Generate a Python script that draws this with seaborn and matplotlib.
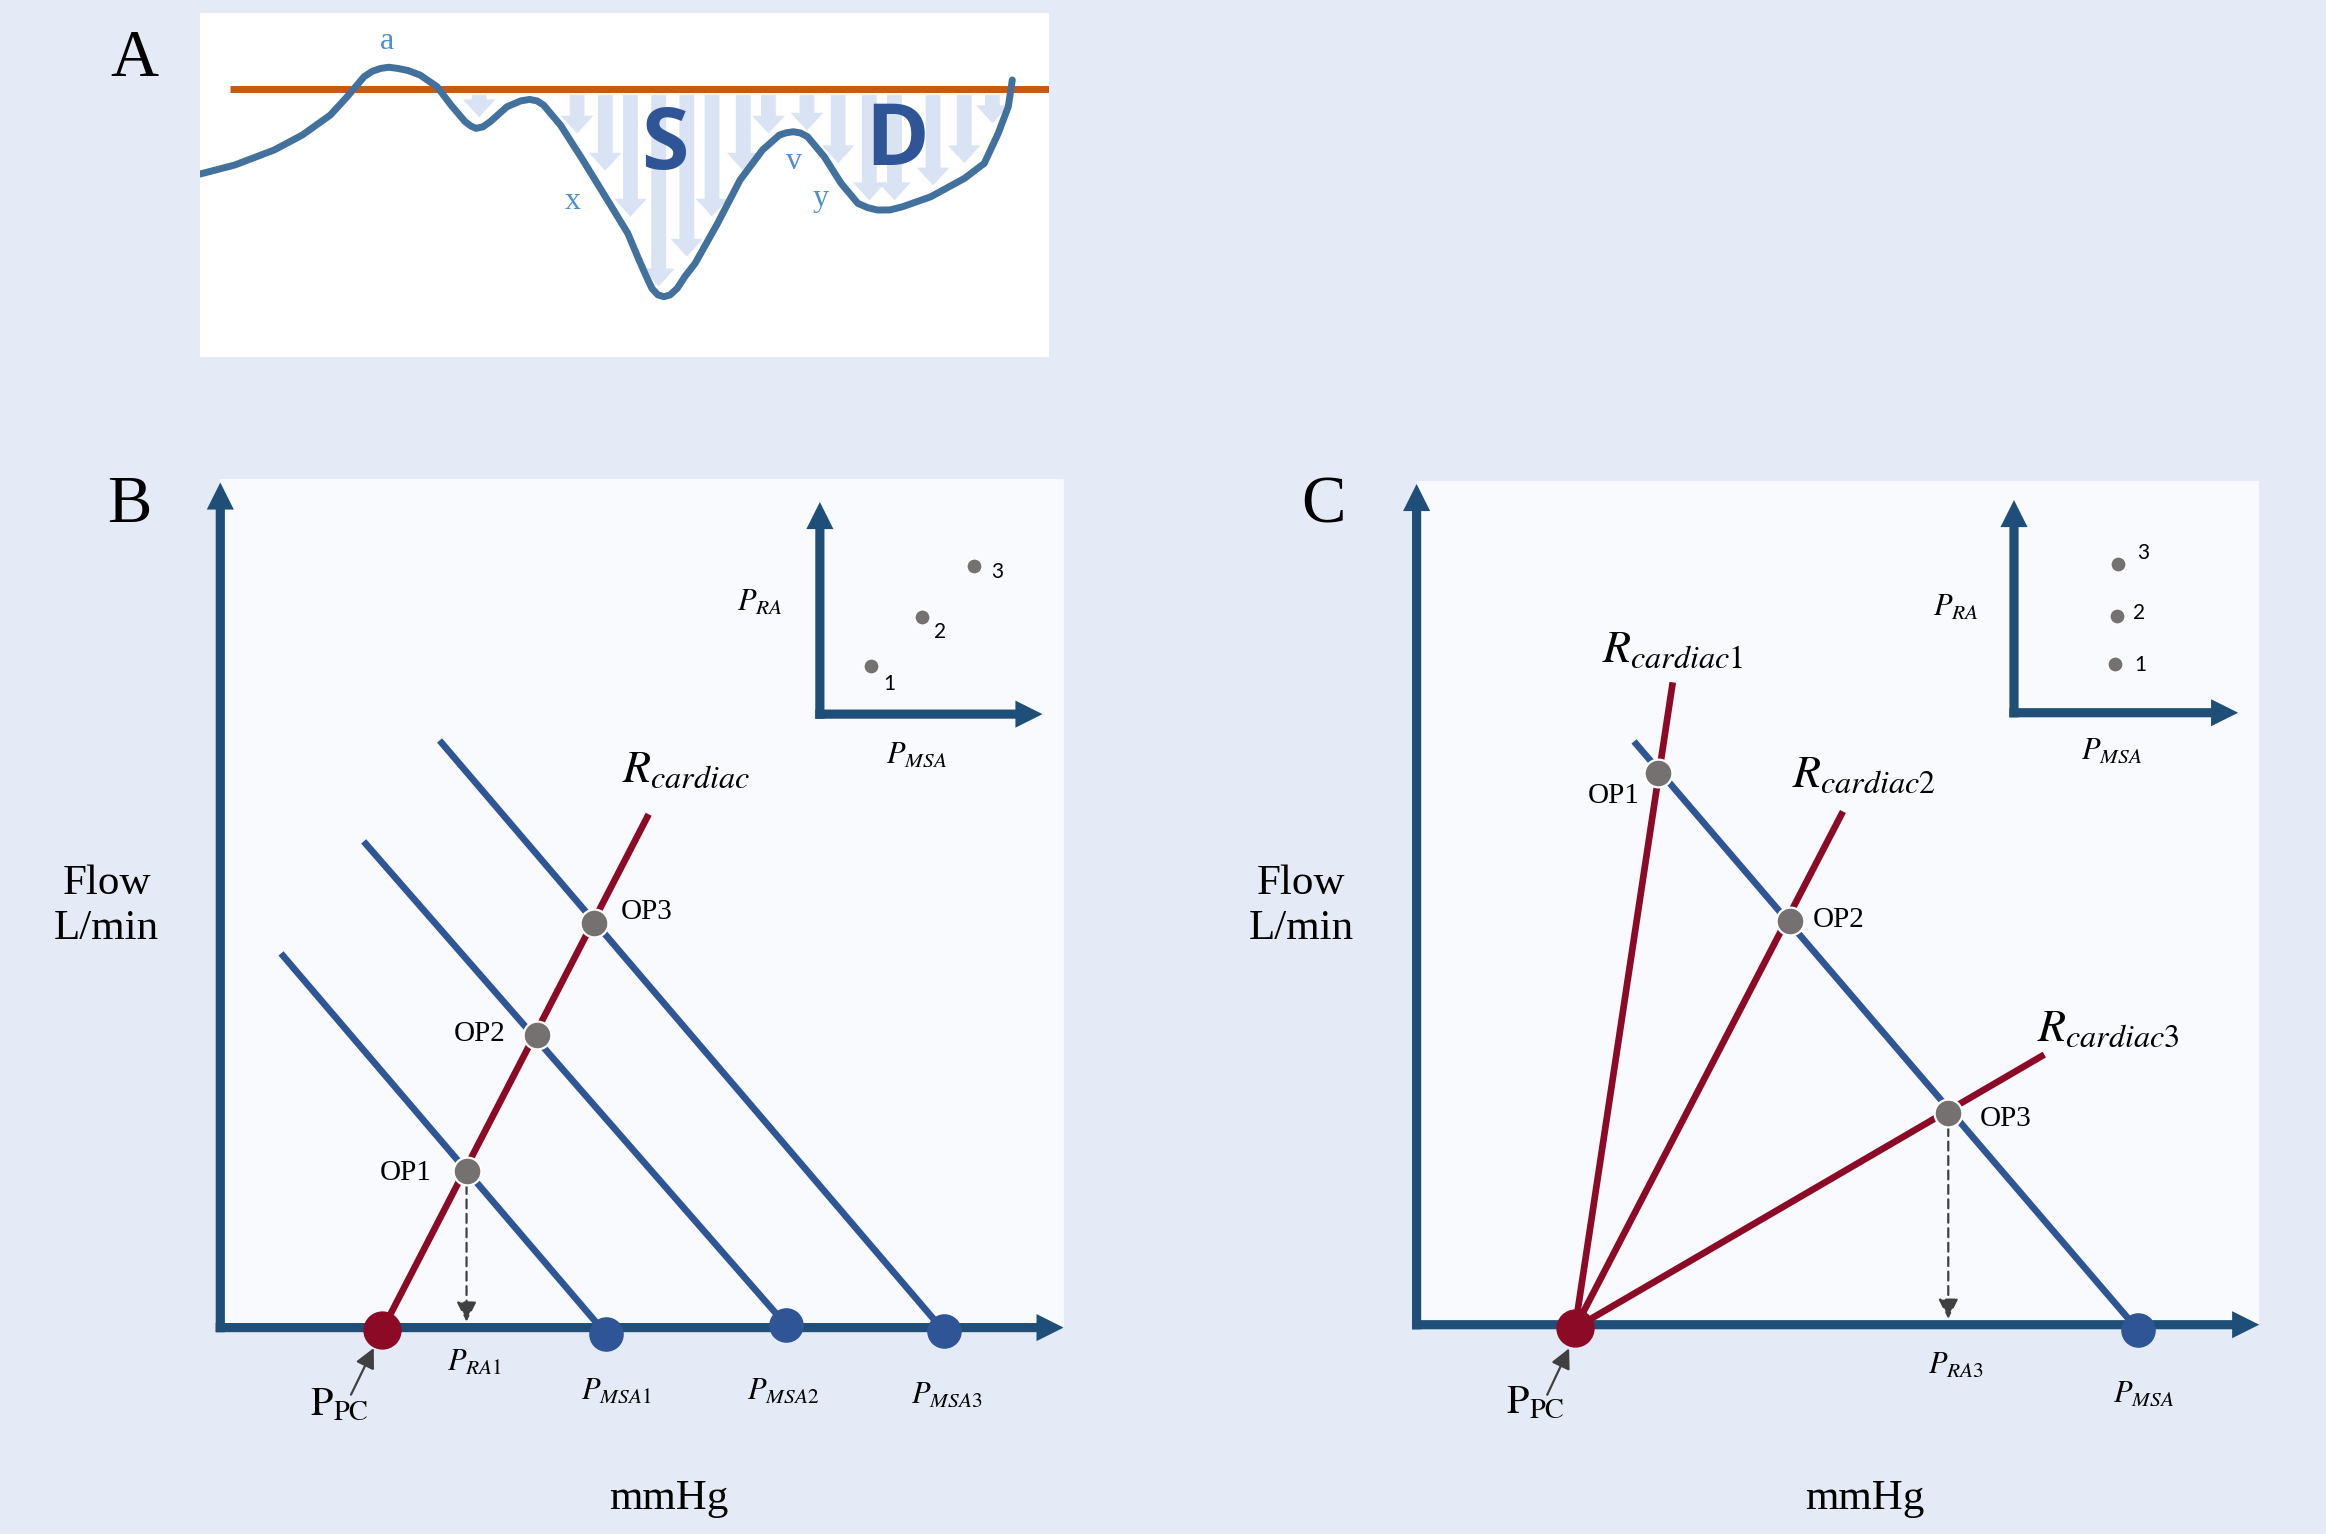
import matplotlib
matplotlib.use("Agg")
import matplotlib.pyplot as plt
import numpy as np
import pandas as pd
import seaborn as sns

################################
# data:
################################

# panel A - venous pressure trace (picture units)
wave_x = [134.9, 158.3, 184.8, 203.8, 222.7, 234.0, 245.4, 251.0, 256.7, 262.0, 268.1,
          275.0, 283.2, 294.6, 304.0, 313.5, 317.5, 321.0, 325.5, 330.5, 341.8, 351.0,
          357.0, 362.0, 366.4, 377.8, 392.9, 408.1, 423.2, 430.8, 435.5, 439.5, 443.5,
          447.5, 451.6, 456.5, 462.0, 468.6, 483.7, 498.9, 514.0, 525.4, 530.0, 534.8,
          539.5, 544.3, 555.6, 567.0, 578.3, 585.0, 591.6, 600.0, 608.6, 627.5, 650.2,
          663.5, 672.9, 679.7, 682.4]
wave_y = [117.3, 111.2, 101.1, 91.0, 77.5, 65.2, 51.7, 48.0, 46.1, 45.3, 46.1,
          47.5, 50.6, 58.4, 70.8, 82.0, 85.0, 86.5, 85.5, 82.0, 71.9, 68.0,
          67.0, 68.0, 70.8, 84.3, 107.9, 132.6, 157.3, 175.3, 186.0, 194.5, 198.8,
          200.0, 198.9, 194.4, 186.0, 177.5, 150.6, 121.3, 101.1, 91.0, 89.5, 88.8,
          89.6, 92.1, 105.6, 123.6, 137.1, 140.0, 141.6, 141.5, 139.3, 132.6, 120.2,
          110.1, 89.9, 71.9, 53.9]
baseline_y = 60
baseline_x = [155, 710]
flow_x = [323, 389, 408, 425, 444, 463, 480, 501, 518, 544, 565, 586, 603, 629, 650, 669]
flow_end = [79, 90, 115, 146, 193, 173, 146, 115, 90, 88, 110, 135, 135, 125, 110, 83]
wave_marks = ["a", "x", "v", "y"]

# panel B - three venous return curves, one cardiac line
b_pmsa = [45.7, 67.1, 85.8]
b_pmsa_y = [-0.7, 0.3, -0.4]
b_vr_top_x = [7.2, 17.0, 26.0]
b_vr_top_y = [44.1, 57.3, 69.2]
b_ppc = 19.2
b_rc_top = [50.8, 60.5]
b_op_x = [29.2, 37.6, 44.3]
b_op_y = [18.5, 34.5, 47.7]
b_inset_x = [77.2, 83.2, 89.4]
b_inset_y = [78.0, 83.7, 89.8]

# panel C - one venous return curve, three cardiac lines
c_pmsa = 85.6
c_vr_top = [25.8, 69.1]
c_ppc = 18.8
c_rc_top_x = [30.4, 50.6, 74.5]
c_rc_top_y = [76.1, 60.8, 32.0]
c_op_x = [28.7, 44.3, 63.1]
c_op_y = [65.4, 47.8, 25.1]
c_inset_x = [82.9, 83.1, 83.3]
c_inset_y = [78.3, 84.0, 90.1]

op_names = ["OP1", "OP2", "OP3"]

################################
# style:
################################

BG = "#e5ebf6"
PANEL = "#f8fafe"
AXIS = "#1f4e79"
VR = "#2f5597"
RED = "#8c0a26"
OPC = "#767171"
DARK = "#404040"
WAVE = "#41719c"

sns.set_theme(style="white")
plt.rcParams["font.family"] = ["Liberation Serif", "DejaVu Serif"]
plt.rcParams["mathtext.fontset"] = "stix"
plt.rcParams["text.color"] = "black"

fig = plt.figure(figsize=(23.26, 15.34), dpi=100, facecolor=BG)


def clean(ax, face):
    ax.set_facecolor(face)
    ax.set_xticks([])
    ax.set_yticks([])
    ax.set(xlabel="", ylabel="")
    sns.despine(ax=ax, left=True, bottom=True)


def fat_arrow(ax, x0, y0, x1, y1):
    ax.annotate("", xy=(x1, y1), xytext=(x0, y0), annotation_clip=False, zorder=1,
                arrowprops=dict(width=6.6, headwidth=19.5, headlength=19.5, shrink=0,
                                color=AXIS, lw=0))


def thin_arrow(ax, x0, y0, x1, y1, dashed=False):
    ax.annotate("", xy=(x1, y1), xytext=(x0, y0), annotation_clip=False, zorder=2,
                arrowprops=dict(arrowstyle="-|>,head_length=1.0,head_width=0.5",
                                mutation_scale=12, lw=1.6, color=DARK,
                                ls=(0, (4, 2.5)) if dashed else "-",
                                shrinkA=0, shrinkB=0))


def frame(ax, ix, iy0, iy1, ix1):
    clean(ax, PANEL)
    ax.set_xlim(0, 100)
    ax.set_ylim(0, 100)
    fat_arrow(ax, 0, -0.55, 0, 99.6)
    fat_arrow(ax, -0.55, 0, 100, 0)
    # small inset axes
    fat_arrow(ax, ix, iy0 - 0.55, ix, iy1)
    fat_arrow(ax, ix - 0.55, iy0, ix1, iy0)


def segments(x0, y0, x1, y1):
    rows = []
    for i in range(len(x0)):
        rows.append({"x": x0[i], "y": y0[i], "line": i})
        rows.append({"x": x1[i], "y": y1[i], "line": i})
    return pd.DataFrame(rows)


def draw_lines(ax, df, color):
    sns.lineplot(data=df, x="x", y="y", units="line", estimator=None, sort=False,
                 color=color, linewidth=4.8, legend=False, ax=ax, clip_on=False,
                 solid_capstyle="butt", zorder=3)


def dots(ax, x, y, s, color, edge=None, lw=0, z=5):
    sns.scatterplot(x=x, y=y, s=s, color=color, edgecolor=edge if edge else color,
                    linewidth=lw, ax=ax, legend=False, clip_on=False, zorder=z)


################################
# panel A
################################

axA = fig.add_axes([0.08611, 0.76695, 0.36479, 0.22432])
clean(axA, "white")
axA.set_xlim(135, 707)
for x, e in zip(flow_x, flow_end):
    axA.arrow(x, baseline_y + 4, 0, e - baseline_y - 4, width=10, head_width=22,
              head_length=12, length_includes_head=True, color="#dae3f3", lw=0, zorder=1)
axA.plot(baseline_x, [baseline_y, baseline_y], color="#c55a11", lw=5, zorder=2,
         solid_capstyle="butt")
sns.lineplot(x=wave_x, y=wave_y, sort=False, estimator=None, color=WAVE, linewidth=5,
             ax=axA, zorder=3, solid_joinstyle="round", solid_capstyle="round")
axA.set(xlabel="", ylabel="")
axA.set_ylim(241, 9)
for m, (x, y) in zip(wave_marks, [(261, 28), (386, 136), (535, 109), (553, 134)]):
    axA.text(x, y, m, color="#4f8fd0", fontsize=23, ha="center", va="center")
axA.text(448, 99, "S", color=VR, fontsize=62, fontweight="bold", family="Open Sans",
         ha="center", va="center", zorder=4)
axA.text(605, 96, "D", color=VR, fontsize=62, fontweight="bold", family="Open Sans",
         ha="center", va="center", zorder=4)

################################
# panel B
################################

axB = fig.add_axes([0.09471, 0.13455, 0.36255, 0.55313])
frame(axB, 71.1, 72.3, 97.3, 97.5)

draw_lines(axB, segments(b_vr_top_x, b_vr_top_y, b_pmsa, b_pmsa_y), VR)
draw_lines(axB, segments([b_ppc], [-0.3], [b_rc_top[0]], [b_rc_top[1]]), RED)
thin_arrow(axB, b_op_x[0], b_op_y[0] - 1.7, b_op_x[0], 0.7, dashed=True)
dots(axB, b_op_x, b_op_y, 400, OPC, "white", 1.6)
dots(axB, b_pmsa, b_pmsa_y, 620, VR)
dots(axB, [b_ppc], [-0.3], 760, RED)
dots(axB, b_inset_x, b_inset_y, 120, OPC, "white", 1.0)

for name, (x, y) in zip(op_names, [(22.0, 18.2), (30.8, 34.6), (50.5, 49.0)]):
    axB.text(x, y, name, fontsize=21, ha="center", va="center")
axB.text(55.2, 65.6, r"$R_{cardiac}$", fontsize=33, ha="center", va="center")
for i, (x, y) in enumerate([(46.9, -7.5), (66.8, -7.5), (86.1, -8.0)]):
    axB.text(x, y, r"$P_{MSA%d}$" % (i + 1), fontsize=22, ha="center", va="center")
axB.text(30.1, -4.2, r"$P_{RA1}$", fontsize=22, ha="center", va="center")
axB.text(14.1, -9.1, r"$\mathrm{P}_{\mathrm{PC}}$", fontsize=29, ha="center", va="center")
thin_arrow(axB, 15.5, -7.9, 18.2, -2.4)
axB.text(64.0, 85.4, r"$P_{RA}$", fontsize=22, ha="center", va="center")
axB.text(82.6, 67.5, r"$P_{MSA}$", fontsize=22, ha="center", va="center")
for i, (x, y) in enumerate([(79.3, 75.9), (85.3, 82.0), (92.1, 89.1)]):
    axB.text(x, y, str(i + 1), fontsize=15, family="Lato", ha="center", va="center")

################################
# panel C
################################

axC = fig.add_axes([0.60903, 0.13644, 0.36225, 0.55026])
frame(axC, 70.9, 72.5, 97.7, 97.5)

draw_lines(axC, segments([c_vr_top[0]], [c_vr_top[1]], [c_pmsa], [-0.6]), VR)
draw_lines(axC, segments([c_ppc] * 3, [-0.4] * 3, c_rc_top_x, c_rc_top_y), RED)
thin_arrow(axC, c_op_x[2], c_op_y[2] - 1.7, c_op_x[2], 0.7, dashed=True)
dots(axC, c_op_x, c_op_y, 400, OPC, "white", 1.6)
dots(axC, [c_pmsa], [-0.6], 620, VR)
dots(axC, [c_ppc], [-0.4], 760, RED)
dots(axC, c_inset_x, c_inset_y, 120, OPC, "white", 1.0)

for name, (x, y) in zip(op_names, [(23.4, 62.6), (50.1, 48.0), (69.9, 24.4)]):
    axC.text(x, y, name, fontsize=21, ha="center", va="center")
for i, (x, y) in enumerate([(30.4, 79.8), (53.1, 65.0), (82.1, 35.0)]):
    axC.text(x, y, r"$R_{cardiac%d}$" % (i + 1), fontsize=33, ha="center", va="center")
axC.text(64.0, -4.9, r"$P_{RA3}$", fontsize=22, ha="center", va="center")
axC.text(86.3, -8.3, r"$P_{MSA}$", fontsize=22, ha="center", va="center")
axC.text(14.1, -9.3, r"$\mathrm{P}_{\mathrm{PC}}$", fontsize=29, ha="center", va="center")
thin_arrow(axC, 15.5, -8.3, 18.1, -2.8)
axC.text(64.0, 84.9, r"$P_{RA}$", fontsize=22, ha="center", va="center")
axC.text(82.5, 67.9, r"$P_{MSA}$", fontsize=22, ha="center", va="center")
for i, (x, y) in enumerate([(85.9, 78.2), (85.8, 84.3), (86.2, 91.4)]):
    axC.text(x, y, str(i + 1), fontsize=15, family="Lato", ha="center", va="center")

################################
# figure labels
################################

fig.text(0.0580, 0.9613, "A", fontsize=48, ha="center", va="center")
fig.text(0.0555, 0.6702, "B", fontsize=48, ha="center", va="center")
fig.text(0.5689, 0.6702, "C", fontsize=48, ha="center", va="center")
for x in [0.0459, 0.5593]:
    fig.text(x, 0.4091, "Flow\nL/min", fontsize=31, ha="center", va="center")
for x in [0.2876, 0.8017]:
    fig.text(x, 0.0232, "mmHg", fontsize=31, ha="center", va="center")

fig.savefig("out.png", dpi=100, facecolor=BG)
